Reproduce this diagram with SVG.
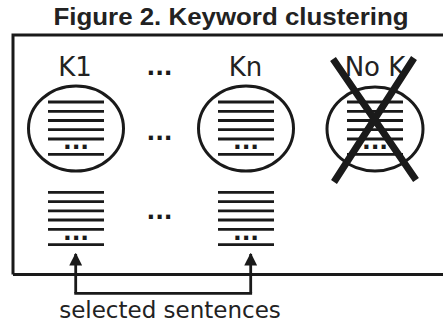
<svg xmlns="http://www.w3.org/2000/svg" width="443" height="323" viewBox="0 0 443 323">
<defs>
<style>
.ln{stroke:#1a1a1a;stroke-width:2.8;fill:none}
.el{stroke:#1a1a1a;stroke-width:3;fill:none}
.lbl{font-family:"DejaVu Sans",sans-serif;font-size:26px;fill:#222;text-anchor:middle}
.dots{font-family:"DejaVu Sans",sans-serif;font-size:23px;font-weight:bold;fill:#1a1a1a;text-anchor:middle}
.x{stroke:#1a1a1a;stroke-width:7;fill:none}
</style>
<g id="list">
<path class="ln" d="M0,0H56M0,9.3H56M0,18.5H56M0,27.7H56M0,37H56M0,52.3H56"/>
<text class="dots" x="28" y="47.3">...</text>
</g>
<marker id="ah" viewBox="0 0 10 10" refX="9" refY="5" markerWidth="4.6" markerHeight="4.6" orient="auto" markerUnits="strokeWidth">
<path d="M0,0L10,5L0,10z" fill="#1a1a1a"/>
</marker>
</defs>
<rect width="443" height="323" fill="#fff"/>
<text x="231" y="24.5" font-family="'Liberation Sans',Arial,sans-serif" font-weight="bold" font-size="23" fill="#222" text-anchor="middle" textLength="355" lengthAdjust="spacingAndGlyphs">Figure 2. Keyword clustering</text>
<g id="frame">
<path class="el" d="M13,274.5V35H450M13,274.5H450"/>
</g>
<g id="k1">
<text class="lbl" x="75" y="76">K1</text>
<ellipse class="el" cx="76" cy="128.5" rx="47.5" ry="42.5"/>
<use href="#list" x="48" y="102"/>
</g>
<g id="kn">
<text class="lbl" x="245.5" y="76">Kn</text>
<ellipse class="el" cx="246" cy="128.5" rx="47.5" ry="42.5"/>
<use href="#list" x="218" y="102"/>
</g>
<g id="nok">
<text class="lbl" x="375" y="76">No K</text>
<ellipse class="el" cx="375" cy="129" rx="48" ry="42"/>
<use href="#list" x="347" y="102"/>
<path class="x" d="M333,59L416,180M414,58L334,182"/>
</g>
<g id="dots-mid">
<text class="dots" x="159.5" y="75">...</text>
<text class="dots" x="159.5" y="140">...</text>
<text class="dots" x="159.5" y="219">...</text>
</g>
<g id="sel1"><use href="#list" x="48" y="192.3"/></g>
<g id="seln"><use href="#list" x="218" y="192.3"/></g>
<g id="connectors">
<path class="ln" d="M75.7,293.3H250.7" stroke-linecap="square"/>
<path class="ln" d="M75.7,293.3V254" marker-end="url(#ah)"/>
<path class="ln" d="M250.7,293.3V254" marker-end="url(#ah)"/>
</g>
<text x="170" y="318" font-family="'DejaVu Sans',sans-serif" font-size="23" fill="#222" text-anchor="middle">selected sentences</text>
</svg>
